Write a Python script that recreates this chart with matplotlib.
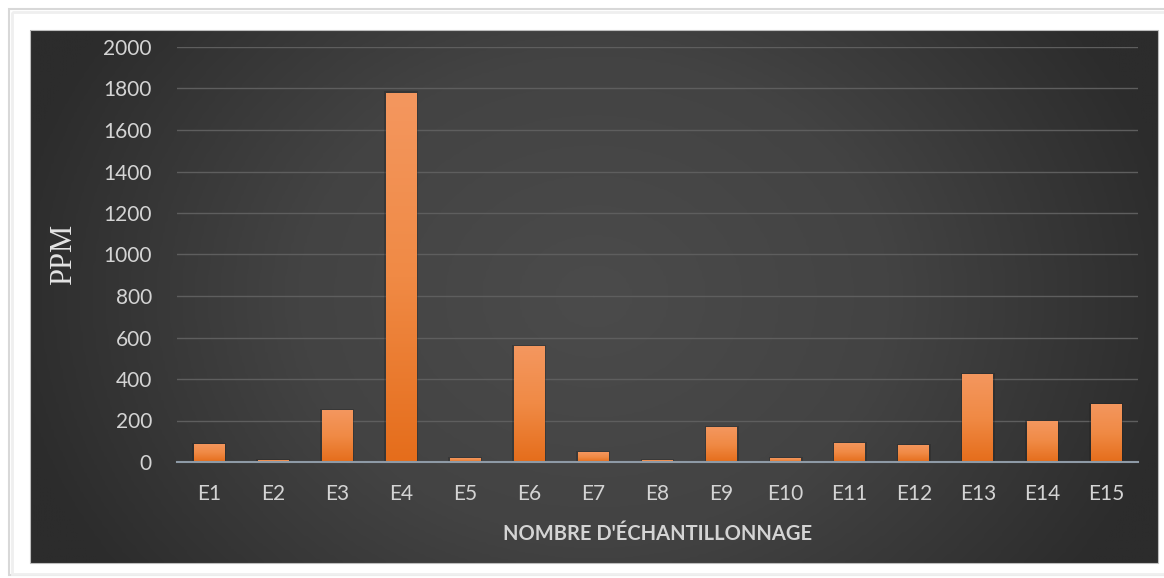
import numpy as np
import matplotlib
matplotlib.use('Agg')
import matplotlib.pyplot as plt
from matplotlib.colors import LinearSegmentedColormap
from matplotlib.patches import Rectangle

# Donnees : concentration (PPM) par echantillon
echantillons = ['E1', 'E2', 'E3', 'E4', 'E5', 'E6', 'E7', 'E8',
                'E9', 'E10', 'E11', 'E12', 'E13', 'E14', 'E15']
ppm = [87, 8, 250, 1780, 17, 558, 48, 8, 168, 17, 92, 83, 425, 197, 280]
yticks = [0, 200, 400, 600, 800, 1000, 1200, 1400, 1600, 1800, 2000]

W, H = 1164, 578
fig = plt.figure(figsize=(W / 100, H / 100), dpi=100)
fig.patch.set_facecolor('white')

# Fond : cadre blanc + panneau gris fonce en degrade
bg = fig.add_axes([0, 0, 1, 1], zorder=0)
bg.add_patch(Rectangle((9, 9), W - 6, H - 12, facecolor='white',
                       edgecolor='#d8d8d8', lw=1.5, zorder=0))
bg.add_patch(Rectangle((12, 12), W - 10, H - 16, facecolor='none',
                       edgecolor='#efefef', lw=2, zorder=0.5))

px0, px1, py0, py1 = 30, 1158, 30, 563
gx = np.linspace(-1, 1, 400)
gy = np.linspace(-1, 1, 200)
X, Y = np.meshgrid(gx, gy)
r = np.sqrt((X * 0.95) ** 2 + (Y * 0.55) ** 2)
fond = LinearSegmentedColormap.from_list('fond', ['#4b4b4b', '#434343', '#2c2c2c'])
bg.imshow(np.clip(r, 0, 1), cmap=fond, vmin=0, vmax=1, zorder=1,
          extent=[px0, px1, py1, py0], aspect='auto', interpolation='bilinear')
bg.add_patch(Rectangle((px0, py0), px1 - px0, py1 - py0, facecolor='none',
                       edgecolor='#bdbdbd', lw=0.8, zorder=2))
bg.set_xlim(0, W)
bg.set_ylim(H, 0)
bg.axis('off')

# Graphique principal
ax = fig.add_axes([177 / W, 1 - 462 / H, (1138 - 177) / W, (462 - 47) / H], zorder=1)
ax.patch.set_alpha(0)
x = np.arange(len(echantillons))
bars = ax.bar(x, ppm, width=0.48, color='#ee7d2f', zorder=3)

# degrade vertical dans chaque barre
orange = LinearSegmentedColormap.from_list('orange', ['#e56d1b', '#f08a45', '#f4975f'])
grad = np.linspace(0, 1, 256).reshape(-1, 1)
for b in bars:
    x0, w, h = b.get_x(), b.get_width(), b.get_height()
    # ombre legere autour de la barre
    ax.add_patch(Rectangle((x0 - 0.025, 0), w + 0.05, h + 6, facecolor='#1e1e1e',
                           alpha=0.3, lw=0, zorder=2))
    im = ax.imshow(grad, cmap=orange, extent=[x0, x0 + w, 0, h], origin='lower',
                   aspect='auto', zorder=3.5, interpolation='bilinear')
    im.set_clip_path(b)

ax.set_xlim(-0.5, len(echantillons) - 0.5)
ax.set_ylim(0, 2000)
ax.set_yticks(yticks)
ax.set_xticks(x)
ax.set_xticklabels(echantillons)
ax.grid(axis='y', color='#5e5e5e', lw=1, zorder=1)
ax.set_axisbelow(True)
for s in ['top', 'right', 'left']:
    ax.spines[s].set_visible(False)
ax.spines['bottom'].set_color('#8e9aa6')
ax.spines['bottom'].set_linewidth(1.5)
ax.spines['bottom'].set_zorder(4)
ax.tick_params(axis='both', length=0, colors='#d4d4d4', labelsize=15)
ax.tick_params(axis='y', pad=18)
ax.tick_params(axis='x', pad=16)
for t in ax.get_xticklabels() + ax.get_yticklabels():
    t.set_fontfamily('Lato')

ax.set_xlabel("NOMBRE D'ÉCHANTILLONNAGE", fontsize=14.5, fontweight='bold',
              color='#d4d4d4', family='Lato', labelpad=14)
ax.set_ylabel('PPM', fontsize=22, color='#e4e4e4', family='Liberation Serif')
ax.yaxis.set_label_coords(-0.103, 0.5)

fig.savefig('out.png', dpi=100, facecolor='white')
